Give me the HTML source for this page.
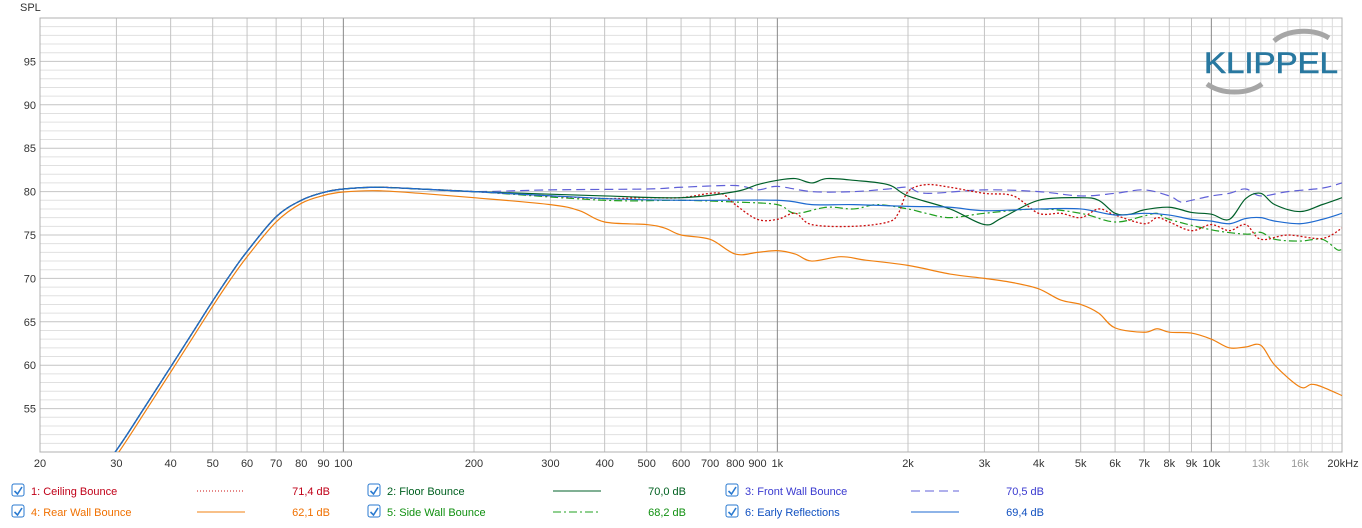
<!DOCTYPE html>
<html><head><meta charset="utf-8"><style>
body{margin:0;background:#fff;width:1362px;height:523px;overflow:hidden;font-family:"Liberation Sans",sans-serif}
</style></head><body>
<svg id="s" width="1362" height="523" xmlns="http://www.w3.org/2000/svg" font-family="Liberation Sans, sans-serif" font-size="11"></svg>
<script>
const s=document.getElementById('s');
const L=40,R=1342,T=18,B=452;
const X=f=>L+434*Math.log10(f/20);
const Y=v=>T+(100-v)*8.68;
let h='';
for(let v=51;v<100;v++){const y=Y(v);h+=`<line x1="${L}" x2="${R}" y1="${y}" y2="${y}" stroke="${v%5==0?'#c4c4c4':'#e0e0e0'}" stroke-width="1"/>`;}
let fs=[];for(let d of [10,100,1000,10000])for(let m=1;m<10;m++){let f=d*m;if(f>=20&&f<=20000)fs.push(f);}
for(let f of fs){const x=X(f);let main=(f==100||f==1000||f==10000);let c=main?'#888':'#c4c4c4';h+=`<line x1="${x}" x2="${x}" y1="${T}" y2="${B}" stroke="${c}"/>`;}
for(let f=11000;f<20000;f+=1000){const x=X(f);h+=`<line x1="${x}" x2="${x}" y1="${T}" y2="${B}" stroke="#dcdcdc"/>`;}
h+=`<rect x="${L}" y="${T}" width="${R-L}" height="${B-T}" fill="none" stroke="#b0b0b0"/>`;
for(let v=55;v<=95;v+=5)h+=`<text x="36" y="${Y(v)+4}" text-anchor="end" fill="#333">${v}</text>`;
h+=`<text x="20" y="11" fill="#333">SPL</text>`;
const xl=[[20,'20'],[30,'30'],[40,'40'],[50,'50'],[60,'60'],[70,'70'],[80,'80'],[90,'90'],[100,'100'],[200,'200'],[300,'300'],[400,'400'],[500,'500'],[600,'600'],[700,'700'],[800,'800'],[900,'900'],[1000,'1k'],[2000,'2k'],[3000,'3k'],[4000,'4k'],[5000,'5k'],[6000,'6k'],[7000,'7k'],[8000,'8k'],[9000,'9k'],[10000,'10k'],[13000,'13k'],[16000,'16k']];
for(const[f,t]of xl)h+=`<text x="${X(f)}" y="467" text-anchor="middle" fill="${(f==13000||f==16000)?'#999':'#333'}">${t}</text>`;
h+=`<text x="1343" y="467" text-anchor="middle" fill="#333">20kHz</text>`;
h+=`<path d="M1274 41 A38 26 0 0 1 1329 38" fill="none" stroke="#a6a6a6" stroke-width="5"/>`;
h+=`<path d="M1207 84 A38 26 0 0 0 1262 84" fill="none" stroke="#a6a6a6" stroke-width="5"/>`;
h+=`<text x="1204" y="73" font-size="30" fill="#2878a0" stroke="#2878a0" stroke-width="0.6" textLength="134" lengthAdjust="spacingAndGlyphs">KLIPPEL</text>`;
const low=[[20,39],[25,45],[30,50.2],[35,55.3],[40,59.8],[45,63.8],[50,67.4],[55,70.5],[60,73.1],[70,77.1],[80,79.0],[90,79.9],[100,80.3],[120,80.5],[150,80.3],[200,80]];
const S=(a)=>low.concat(a);
const lowR=low.slice(0,13).map(([f,v])=>[f,v-(v<79?0.6:0.35)]);
const D=[
 {c:'#6060d8',d:'9,5',w:1.2,p:S([[300,80.2],[500,80.3],[600,80.5],[800,80.7],[900,80.2],[1000,80.6],[1200,80],[1500,80],[1800,80.3],[2000,80.5],[2200,79.8],[3000,80.2],[4000,80],[5000,79.5],[6000,79.8],[7000,80.2],[8000,79.5],[8500,78.8],[9000,79],[10000,79.5],[11000,79.8],[12000,80.3],[13000,79.5],[15000,80],[18000,80.4],[20000,81]])},
 {c:'#f08010',d:'',w:1.2,p:lowR.concat([[120,80.1],[150,79.8],[200,79.3],[300,78.5],[350,77.8],[400,76.5],[500,76.2],[550,75.8],[600,75],[700,74.5],[800,72.8],[900,73],[1000,73.2],[1100,72.8],[1200,72],[1400,72.5],[1600,72.1],[2000,71.5],[2500,70.5],[3000,70],[3500,69.5],[4000,68.8],[4500,67.5],[5000,67],[5500,66],[6000,64.3],[7000,63.8],[7500,64.2],[8000,63.8],[9000,63.7],[10000,63],[11000,62],[12000,62.1],[13000,62.3],[14000,60],[16000,57.5],[17000,57.8],[18000,57.5],[20000,56.5]])},
 {c:'#20a020',d:'8,3,2,3',w:1.2,p:S([[400,79],[600,79],[800,78.8],[1000,78.5],[1100,77.5],[1300,78.2],[1500,78],[1700,78.5],[2000,78],[2200,77.5],[2500,77],[3000,77.5],[4000,78],[5000,77.5],[6000,76.5],[7000,77.2],[7500,77.5],[8000,76.8],[10000,75.6],[12000,75.1],[13000,75.3],[14000,74.5],[16000,74.3],[18000,74.5],[19500,73.3],[20000,73.4]])},
 {c:'#cc1010',d:'2,2',w:1.3,p:S([[300,79.5],[400,79.2],[500,79.3],[600,79.3],[700,79.8],[750,79.7],[800,78.5],[900,76.8],[1000,76.8],[1100,77.5],[1200,76.2],[1500,76],[1800,76.5],[1900,77.5],[2000,80],[2200,80.8],[2500,80.5],[3000,79.8],[3500,79.5],[4000,77.5],[4500,77.5],[5000,77],[5500,78],[6000,77.3],[7000,76.3],[7500,77],[8000,76.5],[9000,75.5],[10000,76.2],[11000,75.5],[12000,76.2],[13000,74.5],[15000,75],[18000,74.6],[20000,75.8]])},
 {c:'#00602a',d:'',w:1.2,p:S([[400,79.5],[600,79.3],[800,80],[900,80.8],[1000,81.3],[1100,81.5],[1200,81],[1300,81.5],[1500,81.3],[1800,80.8],[2000,79.5],[2500,78],[3000,76.2],[3300,77],[4000,79],[5000,79.3],[5500,79],[6000,77.5],[6500,77.4],[7000,77.9],[8000,78.2],[9000,77.6],[10000,77.4],[11000,76.8],[12000,79.2],[13000,79.8],[14000,78.5],[16000,77.7],[18000,78.5],[20000,79.3]])},
 {c:'#1e6ad0',d:'',w:1.2,p:S([[400,79.2],[600,79],[1000,79],[1200,78.5],[1500,78.5],[2000,78.3],[2500,78.2],[3000,77.8],[4000,78],[5000,78],[6000,77.3],[7000,77.5],[8000,77.3],[9000,76.8],[10000,76.6],[11000,76.3],[12000,76.9],[13000,77],[14000,76.6],[16000,76.3],[18000,76.8],[20000,77.5]])}
];
for(const o of D){let pts=o.p.map(([f,v])=>[X(f),Y(v)]);let d='M'+pts[0][0]+' '+pts[0][1];
 for(let i=1;i<pts.length;i++){const p0=pts[i-2]||pts[i-1],p1=pts[i-1],p2=pts[i],p3=pts[i+1]||p2;
 d+=` C${p1[0]+(p2[0]-p0[0])/6} ${p1[1]+(p2[1]-p0[1])/6} ${p2[0]-(p3[0]-p1[0])/6} ${p2[1]-(p3[1]-p1[1])/6} ${p2[0]} ${p2[1]}`;}
 h+=`<path d="${d}" fill="none" stroke="${o.c}" stroke-width="${o.w}" ${o.d?`stroke-dasharray="${o.d}"`:''} clip-path="url(#cp)"/>`;}
h=`<defs><clipPath id="cp"><rect x="${L}" y="${T}" width="${R-L}" height="${B-T}"/></clipPath></defs>`+h;
const lg=[[12,491,'1: Ceiling Bounce','#c00018','71,4 dB','#cc1010','1,2'],[368,491,'2: Floor Bounce','#006020','70,0 dB','#00602a',''],[726,491,'3: Front Wall Bounce','#3a3ad0','70,5 dB','#6060d8','9,5'],
[12,512,'4: Rear Wall Bounce','#f07000','62,1 dB','#f08010',''],[368,512,'5: Side Wall Bounce','#109010','68,2 dB','#20a020','8,3,2,3'],[726,512,'6: Early Reflections','#1050c0','69,4 dB','#1e6ad0','']];
for(const[x,y,t,tc,v,lc,da]of lg){
 h+=`<rect x="${x}" y="${y-7}" width="12" height="12" rx="2" fill="#fff" stroke="#2a7ad0"/><path d="M${x+2.5} ${y} l3 3 l4.5 -7" fill="none" stroke="#2a7ad0" stroke-width="1.6"/>`;
 h+=`<text x="${x+19}" y="${y+4}" fill="${tc}">${t}</text>`;
 h+=`<line x1="${x+185}" x2="${x+233}" y1="${y}" y2="${y}" stroke="${lc}" ${da?`stroke-dasharray="${da}"`:''}/>`;
 h+=`<text x="${x+318}" y="${y+4}" text-anchor="end" fill="${tc}">${v}</text>`;}
s.innerHTML=h;
</script>
</body></html>
